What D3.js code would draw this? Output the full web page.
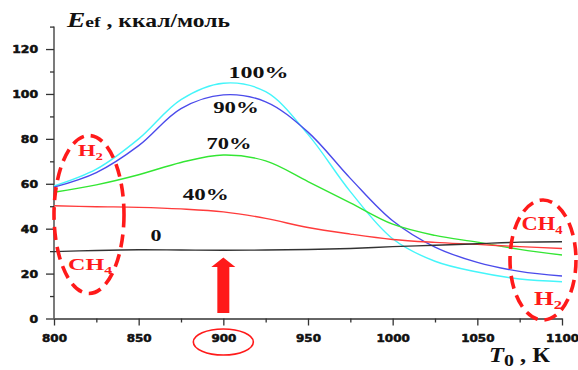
<!DOCTYPE html>
<html>
<head>
<meta charset="utf-8">
<script src="https://cdn.jsdelivr.net/npm/d3@7/dist/d3.min.js"></script>
<style>
  html, body { margin: 0; padding: 0; background: #fff; }
  svg { display: block; }
</style>
</head>
<body>
<svg id="chart" width="578" height="370"></svg>
<script>
// Temperature grid, K
const temps = [800, 825, 850, 875, 900, 925, 950, 975, 1000, 1025, 1050, 1075, 1100];

// Effective activation energy, kcal/mol, for each H2 fraction
const e100 = [59, 66.5, 80, 97.5, 104.8, 101, 82, 56.5, 35.5, 25.5, 20.7, 17.6, 16.4];
const e90  = [58.5, 65, 77, 93.5, 99.6, 96.5, 83, 62.4, 43.5, 31.8, 25, 21, 18.9];
const e70  = [56.2, 59.5, 64, 69.5, 72.8, 70.2, 61, 51.5, 42, 37, 34, 30.8, 28.3];
const e40  = [50.2, 49.8, 49.5, 48.8, 47.5, 44.6, 40.5, 37.6, 35.2, 33.9, 33, 32, 31.2];
const e0   = [29.8, 30.3, 30.6, 30.5, 30.4, 30.5, 30.7, 31.2, 32, 32.6, 33.3, 34, 34.2];

const seriesNames = ["100%", "90%", "70%", "40%", "0"];
const seriesColors = ["#45F5FA", "#4B4BEB", "#33E633", "#FF3B3B", "#333333"];
const seriesValues = [e100, e90, e70, e40, e0];

// Curve label anchors: temperature and energy of each label's left baseline point
const labelT = [903, 894, 890, 876, 857];
const labelE = [107.2, 91.3, 75.6, 52.9, 34.3];
const labelW = [60, 45.6, 45, 46, 11];

const xTicks = [800, 850, 900, 950, 1000, 1050, 1100];
const xMinor = [825, 875, 925, 975, 1025, 1075];
const yTicks = [0, 20, 40, 60, 80, 100, 120];
const yMinor = [10, 30, 50, 70, 90, 110, 130];

const svg = d3.select("#chart");
const x = d3.scaleLinear().domain([800, 1100]).range([54, 562]);
const y = d3.scaleLinear().domain([0, 130]).range([318.5, 26.6]);

const axisColor = "#333";
const tickFont = "'DejaVu Sans', sans-serif";
const serif = "'Liberation Serif', 'Times New Roman', serif";

// Axes
const gx = svg.append("g").attr("transform", `translate(0,${y(0)})`)
  .call(d3.axisBottom(x).tickValues(xTicks).tickSize(7).tickSizeOuter(0).tickFormat(d3.format("d")));
const gxm = svg.append("g").attr("transform", `translate(0,${y(0)})`)
  .call(d3.axisBottom(x).tickValues(xMinor).tickSize(4).tickSizeOuter(0).tickFormat(""));
const gy = svg.append("g").attr("transform", `translate(${x(800)},0)`)
  .call(d3.axisLeft(y).tickValues(yTicks).tickSize(8).tickSizeOuter(0).tickFormat(d3.format("d")));
const gym = svg.append("g").attr("transform", `translate(${x(800)},0)`)
  .call(d3.axisLeft(y).tickValues(yMinor).tickSize(4).tickSizeOuter(0).tickFormat(""));

[gx, gxm, gy, gym].forEach(g => {
  g.selectAll("path.domain").attr("stroke", axisColor).attr("stroke-width", 1.3);
  g.selectAll(".tick line").attr("stroke", axisColor).attr("stroke-width", 1.3);
});
gxm.select("path.domain").remove();
gym.select("path.domain").remove();
// y axis spans up to 130
gy.select("path.domain").attr("d", `M0,${y(0)}V${y(130)}`);

gx.selectAll(".tick text")
  .attr("y", 23).attr("dy", 0)
  .attr("font-family", tickFont).attr("font-weight", 900).attr("font-size", 10)
  .attr("fill", "#111").attr("stroke", "#111").attr("stroke-width", 0.5)
  .attr("textLength", d => String(d).length * 8.3)
  .attr("lengthAdjust", "spacingAndGlyphs");
gy.selectAll(".tick text")
  .attr("x", -16).attr("dy", "0.36em")
  .attr("font-family", tickFont).attr("font-weight", 900).attr("font-size", 10)
  .attr("fill", "#111").attr("stroke", "#111").attr("stroke-width", 0.5)
  .attr("textLength", d => String(d).length * 8.6)
  .attr("lengthAdjust", "spacingAndGlyphs");

// Curves
const line = d3.line().x((d, i) => x(temps[i])).y(d => y(d)).curve(d3.curveCatmullRom.alpha(0.5));
seriesValues.forEach((vals, k) => {
  svg.append("path").datum(vals)
    .attr("d", line)
    .attr("fill", "none")
    .attr("stroke", seriesColors[k])
    .attr("stroke-width", 1.4);
});

// Curve labels
seriesNames.forEach((name, k) => {
  svg.append("text")
    .attr("x", x(labelT[k])).attr("y", y(labelE[k]))
    .attr("font-family", serif).attr("font-weight", "bold").attr("font-size", 16)
    .attr("fill", "#111")
    .attr("textLength", labelW[k]).attr("lengthAdjust", "spacingAndGlyphs")
    .text(name);
});

// Axis titles
const yTitle = svg.append("text").attr("x", 67).attr("y", 27)
  .attr("font-family", serif).attr("font-weight", "bold").attr("fill", "#111")
  .attr("textLength", 163).attr("lengthAdjust", "spacingAndGlyphs");
yTitle.append("tspan").attr("font-style", "italic").attr("font-size", 21).text("E");
yTitle.append("tspan").attr("font-size", 15).text("ef");
yTitle.append("tspan").attr("font-size", 18).text(" , ккал/моль");

const xTitle = svg.append("text").attr("x", 489).attr("y", 362)
  .attr("font-family", serif).attr("font-weight", "bold").attr("fill", "#111")
  .attr("textLength", 61).attr("lengthAdjust", "spacingAndGlyphs");
xTitle.append("tspan").attr("font-style", "italic").attr("font-size", 21).text("T");
xTitle.append("tspan").attr("font-size", 17).attr("dy", 4).text("0");
xTitle.append("tspan").attr("font-size", 21).attr("dy", -4).text(" , К");

// Annotations
const red = "#FF1A1A";
function gasLabel(px, py, main, sub, width, size) {
  const t = svg.append("text").attr("x", px).attr("y", py)
    .attr("font-family", serif).attr("font-weight", "bold").attr("fill", red)
    .attr("textLength", width).attr("lengthAdjust", "spacingAndGlyphs");
  t.append("tspan").attr("font-size", size).text(main);
  t.append("tspan").attr("font-size", size * 0.65).attr("dy", 4).text(sub);
}

// Dashed ellipses marking the H2 / CH4 regions
svg.append("ellipse").attr("cx", 89).attr("cy", 214.5).attr("rx", 35).attr("ry", 79)
  .attr("fill", "none").attr("stroke", red).attr("stroke-width", 3.6)
  .attr("stroke-dasharray", "13,7");
svg.append("ellipse").attr("cx", 543).attr("cy", 260).attr("rx", 33).attr("ry", 60)
  .attr("fill", "none").attr("stroke", red).attr("stroke-width", 3.6)
  .attr("stroke-dasharray", "13,7");

gasLabel(78, 155.5, "H", "2", 25, 17);
gasLabel(68, 270, "CH", "4", 44, 17);
gasLabel(521.5, 230, "CH", "4", 41, 18);
gasLabel(534, 305, "H", "2", 28, 18);

// Arrow pointing at the 900 K mark
const ax = x(900);
const arrow = [
  [ax - 6, y(2.5)], [ax - 6, y(22.9)], [ax - 12, y(22.9)], [ax, y(27.2)],
  [ax + 12, y(22.9)], [ax + 6, y(22.9)], [ax + 6, y(2.5)]
];
svg.append("path").attr("d", d3.line()(arrow) + "Z").attr("fill", red);

// Circle round the 900 tick label
svg.append("ellipse").attr("cx", ax).attr("cy", 342).attr("rx", 30).attr("ry", 13)
  .attr("fill", "none").attr("stroke", red).attr("stroke-width", 1.6);
</script>
</body>
</html>
